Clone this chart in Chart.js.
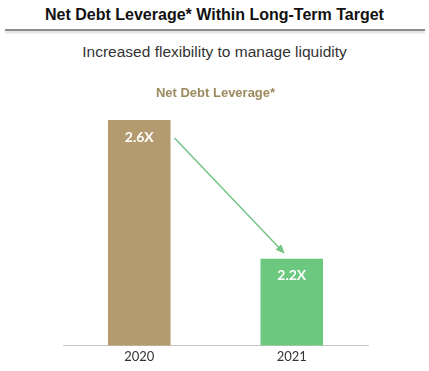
<!DOCTYPE html>
<html>
<head>
<meta charset="utf-8">
<script src="https://cdn.jsdelivr.net/npm/chart.js@4"></script>
<style>
  html, body { margin: 0; padding: 0; background: #fff; }
  body { width: 429px; height: 371px; position: relative; overflow: hidden; font-family: "Liberation Sans", Arial, sans-serif; }
  #headline { position: absolute; top: 6px; left: 0; width: 429px; text-align: center; font-weight: bold; font-size: 16px; color: #111; }
  #rule { position: absolute; top: 29px; left: 5px; width: 420px; height: 2px; background: #8c8c8c; box-shadow: 0 2px 2px #d8d8d8; }
  #subhead { position: absolute; top: 43px; left: 0; width: 429px; text-align: center; font-size: 15.5px; color: #333; }
  #chart-wrap { position: absolute; top: 0; left: 0; width: 429px; height: 371px; }
</style>
</head>
<body>
<div id="headline">Net Debt Leverage* Within Long-Term Target</div>
<div id="rule"></div>
<div id="subhead">Increased flexibility to manage liquidity</div>
<div id="chart-wrap"><canvas id="chart"></canvas></div>
<script>
  const years = ['2020', '2021'];
  const leverage = [2.6, 2.2];
  const barColors = ['#b39b6f', '#6cc87e'];
  const arrowColor = '#74c486';

  // white "2.6X" style labels near the top of each bar
  const valueLabels = {
    id: 'valueLabels',
    afterDatasetsDraw(chart) {
      const ctx = chart.ctx;
      const meta = chart.getDatasetMeta(0);
      ctx.save();
      ctx.fillStyle = '#fff';
      ctx.font = 'bold 14px Lato, "Open Sans", sans-serif';
      ctx.textAlign = 'center';
      ctx.textBaseline = 'middle';
      meta.data.forEach((bar, i) => {
        ctx.fillText(leverage[i].toFixed(1) + 'X', bar.x, bar.y + 17);
      });
      ctx.restore();
    }
  };

  // green arrow going from the 2020 bar down to the 2021 bar
  const trendArrow = {
    id: 'trendArrow',
    afterDatasetsDraw(chart) {
      const ctx = chart.ctx;
      const meta = chart.getDatasetMeta(0);
      const a = meta.data[0], b = meta.data[1];
      const x1 = a.x + a.width / 2 + 4, y1 = a.y + 18;
      const x2 = b.x - 7, y2 = b.y - 5;
      const ang = Math.atan2(y2 - y1, x2 - x1);
      ctx.save();
      ctx.strokeStyle = arrowColor;
      ctx.lineWidth = 1.5;
      ctx.beginPath();
      ctx.moveTo(x1, y1);
      ctx.lineTo(x2 - 3 * Math.cos(ang), y2 - 3 * Math.sin(ang));
      ctx.stroke();
      ctx.fillStyle = arrowColor;
      ctx.beginPath();
      ctx.moveTo(x2, y2);
      ctx.lineTo(x2 - 10 * Math.cos(ang - 0.4), y2 - 10 * Math.sin(ang - 0.4));
      ctx.lineTo(x2 - 10 * Math.cos(ang + 0.4), y2 - 10 * Math.sin(ang + 0.4));
      ctx.closePath();
      ctx.fill();
      ctx.restore();
    }
  };

  new Chart(document.getElementById('chart'), {
    type: 'bar',
    data: {
      labels: years,
      datasets: [{
        data: leverage,
        backgroundColor: barColors,
        barPercentage: 0.41,
        categoryPercentage: 1
      }]
    },
    options: {
      responsive: true,
      maintainAspectRatio: false,
      animation: false,
      layout: { padding: { left: 63, right: 61, top: 0, bottom: 2 } },
      plugins: {
        legend: { display: false },
        tooltip: { enabled: false },
        title: {
          display: true,
          text: 'Net Debt Leverage*',
          color: '#9c8a5f',
          font: { family: '"Liberation Sans", Arial, sans-serif', size: 13, weight: 'bold' },
          padding: { top: 86, bottom: 18.4 }
        }
      },
      scales: {
        y: { display: false, min: 1.95, max: 2.6 },
        x: {
          grid: { display: false, drawTicks: false },
          border: { display: true, color: '#c8c8c8', width: 1 },
          ticks: { color: '#333', font: { family: 'Lato, "Open Sans", sans-serif', size: 13 }, padding: 4 }
        }
      }
    },
    plugins: [valueLabels, trendArrow]
  });
</script>
</body>
</html>
